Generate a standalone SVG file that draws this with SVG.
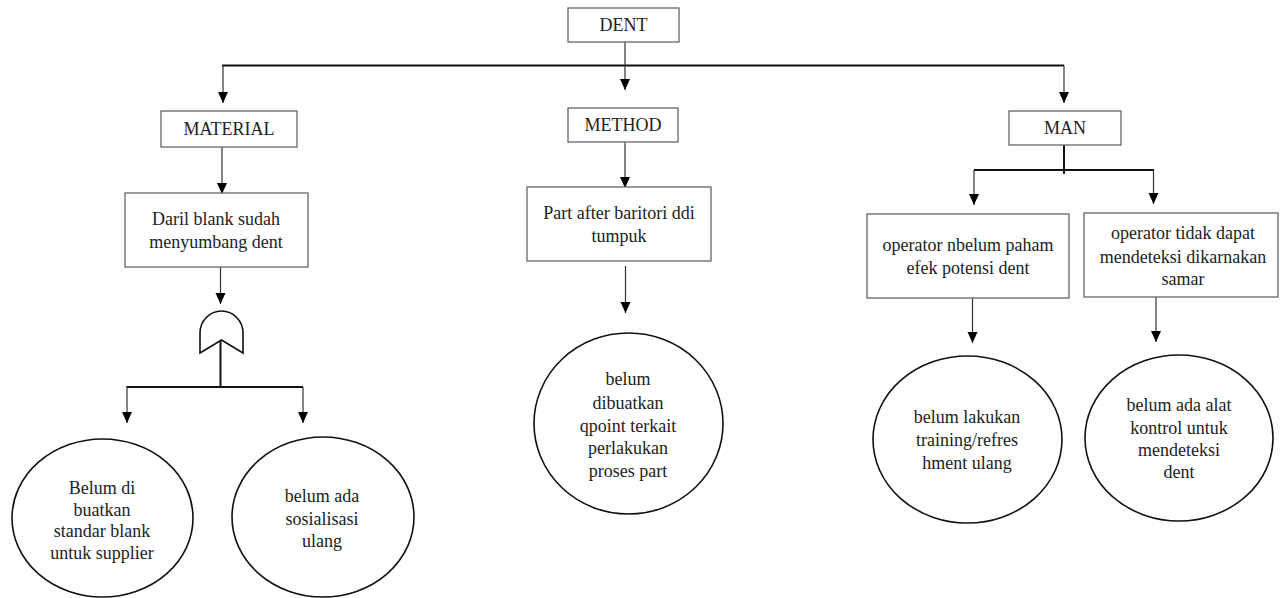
<svg xmlns="http://www.w3.org/2000/svg" width="1280" height="598" viewBox="0 0 1280 598">
<style>
.box{fill:#fff;stroke:#666;stroke-width:1.3}
.ell{fill:#fff;stroke:#111;stroke-width:1.6}
.t{font-family:'Liberation Serif','Tinos','DejaVu Serif',serif;font-size:18px;fill:#222;text-anchor:middle}
.ln{fill:none;stroke:#333;stroke-width:1.2}
.bold{fill:none;stroke:#111;stroke-width:2}
</style>
<defs>
<marker id="a" markerUnits="userSpaceOnUse" markerWidth="12" markerHeight="12" viewBox="-6 -11 12 12" refX="0" refY="0" orient="0">
<path d="M-5,-11 L5,-11 L0,0 Z" fill="#000"/>
</marker>
</defs>
<g id="connectors">
<line class="bold" x1="222" y1="65.5" x2="1064" y2="65.5"/>
<line class="ln" x1="625" y1="42" x2="625" y2="90" marker-end="url(#a)"/>
<line class="ln" x1="223" y1="65.5" x2="223" y2="103" marker-end="url(#a)"/>
<line class="ln" x1="1064" y1="65.5" x2="1064" y2="103" marker-end="url(#a)"/>
<line class="ln" x1="222" y1="147" x2="222" y2="194" marker-end="url(#a)"/>
<line class="ln" x1="220.5" y1="267" x2="220.5" y2="304" marker-end="url(#a)"/>
<line class="bold" x1="220.5" y1="340" x2="220.5" y2="387"/>
<line class="bold" x1="126.5" y1="387" x2="303" y2="387"/>
<line class="ln" x1="127" y1="387" x2="127" y2="423" marker-end="url(#a)"/>
<line class="ln" x1="303" y1="387" x2="303" y2="423" marker-end="url(#a)"/>
<line class="ln" x1="625" y1="142" x2="625" y2="188" marker-end="url(#a)"/>
<line class="ln" x1="625.5" y1="266" x2="625.5" y2="313" marker-end="url(#a)"/>
<line class="bold" x1="1064" y1="145" x2="1064" y2="174"/>
<line class="bold" x1="974" y1="170" x2="1154" y2="170"/>
<line class="ln" x1="974" y1="170" x2="974" y2="205" marker-end="url(#a)"/>
<line class="ln" x1="1153.5" y1="170" x2="1153.5" y2="204" marker-end="url(#a)"/>
<line class="ln" x1="972.5" y1="298" x2="972.5" y2="343" marker-end="url(#a)"/>
<line class="ln" x1="1156" y1="296" x2="1156" y2="342" marker-end="url(#a)"/>
</g>
<g id="dent"><rect class="box" x="568" y="8" width="111" height="34"/><text class="t" x="623.5" y="31">DENT</text></g>
<g id="material"><rect class="box" x="161" y="111" width="136" height="36"/><text class="t" x="229" y="135">MATERIAL</text></g>
<g id="method"><rect class="box" x="568" y="108" width="110" height="34"/><text class="t" x="623" y="131">METHOD</text></g>
<g id="man"><rect class="box" x="1009" y="111" width="112" height="34"/><text class="t" x="1065" y="134">MAN</text></g>
<g id="daril"><rect class="box" x="125" y="193" width="183" height="74"/><text class="t" x="216" y="225">Daril blank sudah</text><text class="t" x="216" y="248">menyumbang  dent</text></g>
<g id="gate"><path d="M200,353 L200,333 A21.5,22 0 0 1 243,333 L243,353 L221.5,340 Z" fill="#fff" stroke="#111" stroke-width="1.6"/></g>
<g id="e1"><ellipse class="ell" cx="102.5" cy="518" rx="90.5" ry="79"/><text class="t" x="102" y="494">Belum di</text><text class="t" x="102" y="516">buatkan</text><text class="t" x="102" y="537">standar blank</text><text class="t" x="102" y="559">untuk supplier</text></g>
<g id="e2"><ellipse class="ell" cx="323" cy="517" rx="91" ry="80"/><text class="t" x="322" y="502">belum ada</text><text class="t" x="322" y="525">sosialisasi</text><text class="t" x="322" y="547">ulang</text></g>
<g id="part"><rect class="box" x="527" y="187" width="184" height="74"/><text class="t" x="619" y="219">Part after baritori ddi</text><text class="t" x="619" y="242">tumpuk</text></g>
<g id="circle"><ellipse class="ell" cx="628.5" cy="423.5" rx="94.5" ry="90.5"/><text class="t" x="628" y="385">belum</text><text class="t" x="628" y="409">dibuatkan</text><text class="t" x="628" y="432">qpoint terkait</text><text class="t" x="628" y="454">perlakukan</text><text class="t" x="628" y="477">proses part</text></g>
<g id="op1"><rect class="box" x="867" y="214" width="202" height="84"/><text class="t" x="968" y="251">operator nbelum  paham</text><text class="t" x="968" y="274">efek potensi dent</text></g>
<g id="op2"><rect class="box" x="1084" y="213" width="194" height="84"/><text class="t" x="1183" y="239">operator tidak dapat</text><text class="t" x="1183" y="263">mendeteksi dikarnakan</text><text class="t" x="1183" y="285">samar</text></g>
<g id="e3"><ellipse class="ell" cx="967.5" cy="439.5" rx="94.5" ry="83.5"/><text class="t" x="967" y="423">belum  lakukan</text><text class="t" x="967" y="446">training/refres</text><text class="t" x="967" y="469">hment  ulang</text></g>
<g id="e4"><ellipse class="ell" cx="1179" cy="438" rx="94" ry="83"/><text class="t" x="1179" y="411">belum ada alat</text><text class="t" x="1179" y="434">kontrol untuk</text><text class="t" x="1179" y="456">mendeteksi</text><text class="t" x="1179" y="478">dent</text></g>
</svg>
